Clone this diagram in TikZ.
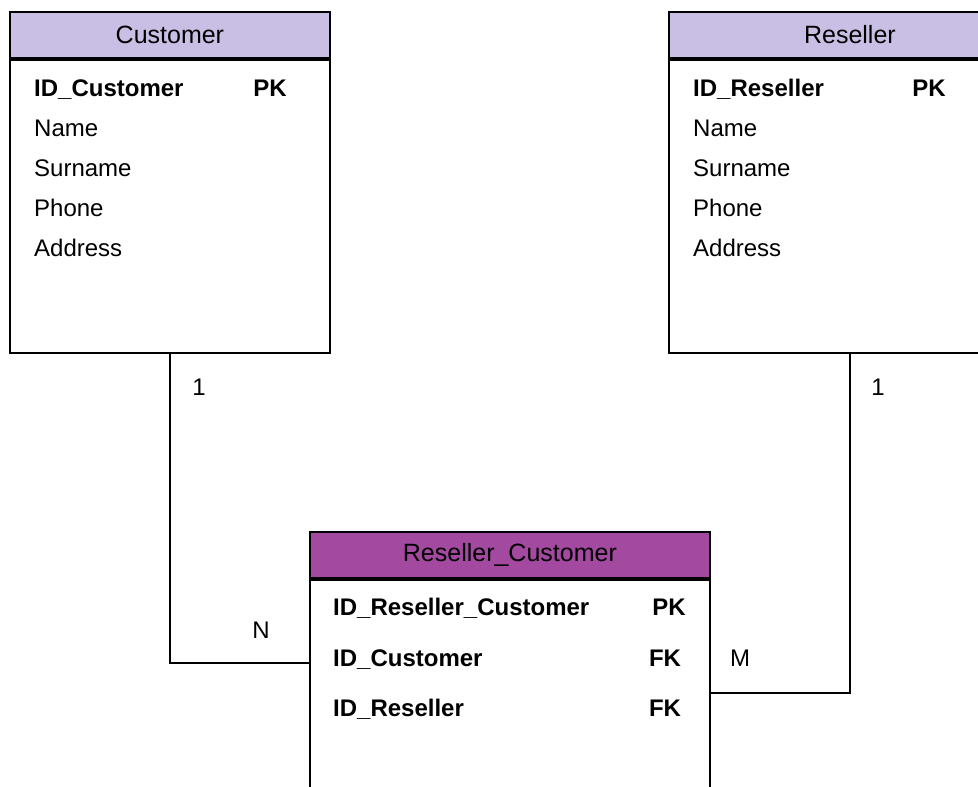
\documentclass[tikz,border=0pt]{standalone}
\usepackage{fontspec}
\setmainfont{Liberation Sans}
\usetikzlibrary{positioning}
\definecolor{hdrlilac}{RGB}{201,191,229}
\definecolor{hdrplum}{RGB}{163,73,160}
\newcommand\erfont{\fontsize{24}{28}\selectfont}
\tikzset{
  hdr/.style={draw, line width=1.8pt, anchor=north west, minimum height=46, inner sep=0pt, font=\fontsize{25}{29}\selectfont},
  tblbody/.style={draw, line width=1.8pt, fill=white, inner sep=0pt},
  attr/.style={anchor=west, inner sep=0pt, text height=20pt, text depth=4pt},
  keyattr/.style={attr, font=\erfont\bfseries},
  keytag/.style={font=\erfont\bfseries, inner sep=0pt, text height=20pt, text depth=4pt},
  card/.style={inner sep=0pt},
  link/.style={line width=1.8pt}
}
\begin{document}
\begin{tikzpicture}[x=1pt, y=-1pt, font=\erfont]
	\useasboundingbox (0,0) rectangle (978,787);
	% tables
	\node[hdr, fill=hdrlilac, minimum width=320] (cust) at (9,11) {Customer};
	\node[tblbody, below=0pt of cust, minimum width=320, minimum height=293] (custbody) {};
	\node[hdr, fill=hdrlilac, minimum width=362] (res) at (668,11) {Reseller};
	\node[tblbody, below=0pt of res, minimum width=362, minimum height=293] (resbody) {};
	\node[hdr, fill=hdrplum, minimum width=400] (rc) at (309,531) {Reseller\_Customer};
	\node[tblbody, below=0pt of rc, minimum width=400, minimum height=293] (rcbody) {};
	% attributes
	\node[keyattr] (custid) at (34,88) {ID\_Customer};
	\node[keytag] at (270,88) {PK};
	\foreach \t [count=\i] in {Name,Surname,Phone,Address}
		\node[attr] (cust\i) at (34,88+40*\i) {\t};
	\node[keyattr] (resid) at (693,88) {ID\_Reseller};
	\node[keytag] at (929,88) {PK};
	\foreach \t [count=\i] in {Name,Surname,Phone,Address}
		\node[attr] (res\i) at (693,88+40*\i) {\t};
	\node[keyattr] (rcid) at (333,607) {ID\_Reseller\_Customer};
	\node[keytag] at (669,607) {PK};
	\node[keyattr] (rccust) at (333,658) {ID\_Customer};
	\node[keytag] at (665,658) {FK};
	\node[keyattr] (rcres) at (333,708) {ID\_Reseller};
	\node[keytag] at (665,708) {FK};
	% relations
	\coordinate[below=84pt of rcbody.north west] (nport);
	\coordinate[below=114pt of rcbody.north east] (mport);
	\draw[link] (custbody.south) |- (nport);
	\draw[link] (resbody.south) |- (mport);
	\node[card] at (199,387) {1};
	\node[card] at (261,630) {N};
	\node[card] at (878,387) {1};
	\node[card] at (740,658) {M};
\end{tikzpicture}
\end{document}
